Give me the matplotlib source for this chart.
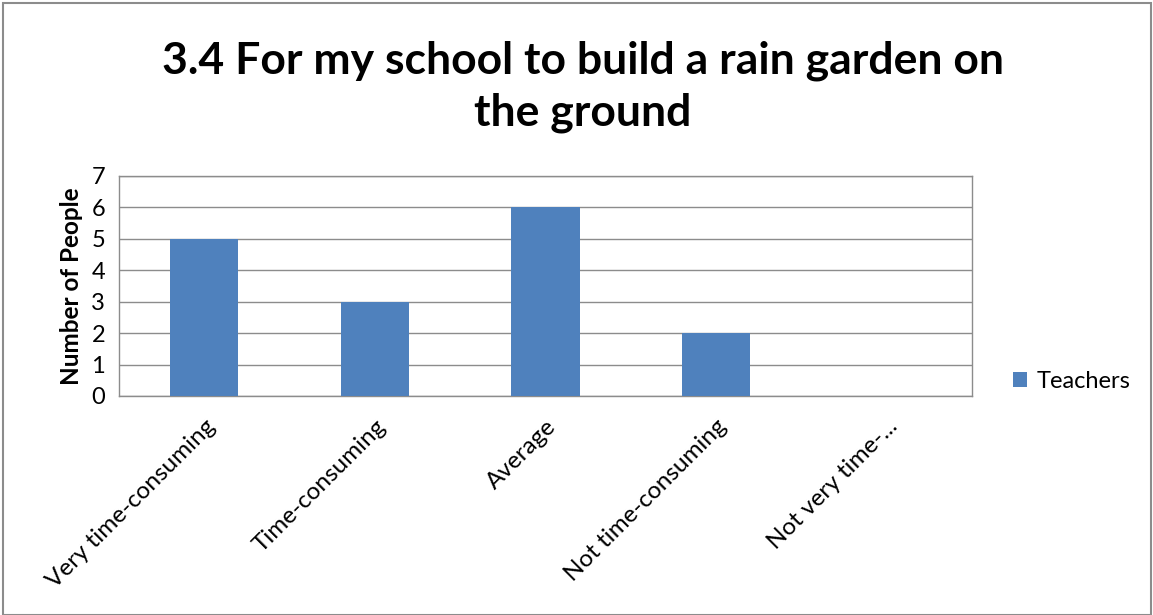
import matplotlib
matplotlib.use("Agg")
import matplotlib.pyplot as plt
from matplotlib.patches import Rectangle
import numpy as np

categories = ["Very time-consuming", "Time-consuming", "Average",
              "Not time-consuming", "Not very time-..."]
teachers = [5, 3, 6, 2, 0]
yticks = [0, 1, 2, 3, 4, 5, 6, 7]

plt.rcParams["font.family"] = ["Lato", "DejaVu Sans"]

fig = plt.figure(figsize=(11.53, 6.15), dpi=100)
ax = fig.add_axes([119 / 1153, 1 - 396 / 615, (972 - 119) / 1153, (396 - 176) / 615])

x = np.arange(len(categories))
ax.bar(x, teachers, width=0.4, color="#4F81BD", zorder=3, label="Teachers")

ax.set_xlim(-0.5, len(categories) - 0.5)
ax.set_ylim(0, 7)
ax.set_yticks(yticks)
ax.set_yticklabels([str(v) for v in yticks], fontsize=17)
ax.set_xticks(x)
ax.set_xticklabels(categories, rotation=45, ha="right", rotation_mode="anchor", fontsize=17.5)
ax.tick_params(length=0, pad=10)
ax.tick_params(axis="x", pad=14)
ax.grid(axis="y", color="#8c8c8c", lw=1, zorder=0)
for s in ax.spines.values():
    s.set_color("#8c8c8c")
    s.set_linewidth(1)

ax.set_ylabel("Number of People", fontsize=17.5, fontweight="bold", labelpad=6)

fig.text(583 / 1153, 1 - 87 / 615, "3.4 For my school to build a rain garden on\nthe ground",
         ha="center", va="center", fontsize=32, fontweight="bold", linespacing=1.35)

ax.legend(loc="center left", bbox_to_anchor=(992 / 1153, 1 - 381 / 615),
          bbox_transform=fig.transFigure, frameon=False, fontsize=17,
          handlelength=0.6, handleheight=0.6, handletextpad=0.4)

fig.patches.append(Rectangle((0.003, 0.0), 0.995, 0.995, transform=fig.transFigure,
                             fill=False, edgecolor="#8c8c8c", lw=1.5))

fig.savefig("out.png", dpi=100)
